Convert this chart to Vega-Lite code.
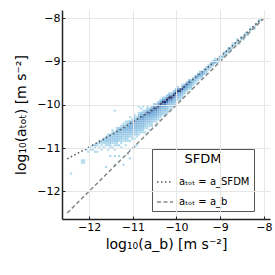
{
"$schema": "https://vega.github.io/schema/vega-lite/v6.json",
"width": 208, "height": 209, "autosize": "none",
"padding": {"left": 62, "top": 10, "right": 5, "bottom": 56},
"datasets": {
"cells": [
{"x":-12.075,"y":-11.025,"n":1},
{"x":-12.025,"y":-10.975,"n":1},{"x":-12.025,"y":-11.075,"n":1},
{"x":-11.975,"y":-10.975,"n":1},{"x":-11.975,"y":-11.025,"n":1},
{"x":-11.925,"y":-10.925,"n":1},{"x":-11.925,"y":-11.025,"n":1},
{"x":-11.875,"y":-10.925,"n":2},{"x":-11.875,"y":-10.975,"n":1},{"x":-11.875,"y":-11.075,"n":1},
{"x":-11.825,"y":-10.875,"n":1},{"x":-11.825,"y":-10.925,"n":1},{"x":-11.825,"y":-11.075,"n":1},
{"x":-11.775,"y":-10.825,"n":1},{"x":-11.775,"y":-10.875,"n":2},{"x":-11.775,"y":-10.975,"n":1},
{"x":-11.725,"y":-10.825,"n":2},{"x":-11.725,"y":-10.875,"n":1},{"x":-11.725,"y":-10.925,"n":1},{"x":-11.725,"y":-11.025,"n":1},
{"x":-11.675,"y":-10.775,"n":2},{"x":-11.675,"y":-10.825,"n":2},{"x":-11.675,"y":-10.875,"n":1},{"x":-11.675,"y":-10.975,"n":1},
{"x":-11.625,"y":-10.725,"n":1},{"x":-11.625,"y":-10.775,"n":3},{"x":-11.625,"y":-10.825,"n":2},{"x":-11.625,"y":-10.875,"n":1},{"x":-11.625,"y":-10.925,"n":1},
{"x":-12.425,"y":-11.575,"n":1},{"x":-12.175,"y":-11.275,"n":1},{"x":-12.125,"y":-11.275,"n":1},{"x":-12.175,"y":-11.325,"n":1},{"x":-12.125,"y":-11.325,"n":1},
{"x":-11.625,"y":-11.425,"n":1},{"x":-11.525,"y":-11.175,"n":1},{"x":-11.425,"y":-11.175,"n":1},{"x":-11.425,"y":-11.375,"n":1},{"x":-11.325,"y":-11.175,"n":1},
{"x":-11.225,"y":-11.375,"n":1},{"x":-11.125,"y":-11.125,"n":1},{"x":-11.075,"y":-11.225,"n":1},{"x":-11.075,"y":-11.025,"n":1},{"x":-10.975,"y":-10.975,"n":1},
{"x":-10.925,"y":-10.925,"n":1},{"x":-11.425,"y":-10.125,"n":1},{"x":-10.875,"y":-10.025,"n":1},
{"x":-11.575,"y":-10.675,"n":1},{"x":-11.575,"y":-10.725,"n":3},{"x":-11.575,"y":-10.775,"n":2},{"x":-11.575,"y":-10.825,"n":2},{"x":-11.575,"y":-10.875,"n":1},{"x":-11.575,"y":-10.925,"n":1},{"x":-11.575,"y":-11.025,"n":1},
{"x":-11.525,"y":-10.675,"n":2},{"x":-11.525,"y":-10.725,"n":4},{"x":-11.525,"y":-10.775,"n":3},{"x":-11.525,"y":-10.825,"n":2},{"x":-11.525,"y":-10.875,"n":2},{"x":-11.525,"y":-10.925,"n":1},{"x":-11.525,"y":-10.975,"n":1},
{"x":-11.475,"y":-10.575,"n":1},{"x":-11.475,"y":-10.625,"n":1},{"x":-11.475,"y":-10.675,"n":4},{"x":-11.475,"y":-10.725,"n":3},{"x":-11.475,"y":-10.775,"n":2},{"x":-11.475,"y":-10.825,"n":2},{"x":-11.475,"y":-10.875,"n":1},{"x":-11.475,"y":-10.975,"n":1},
{"x":-11.425,"y":-10.625,"n":2},{"x":-11.425,"y":-10.675,"n":5},{"x":-11.425,"y":-10.725,"n":3},{"x":-11.425,"y":-10.775,"n":3},{"x":-11.425,"y":-10.825,"n":2},{"x":-11.425,"y":-10.875,"n":1},{"x":-11.425,"y":-10.925,"n":1},{"x":-11.425,"y":-11.025,"n":1},
{"x":-11.375,"y":-10.525,"n":1},{"x":-11.375,"y":-10.575,"n":2},{"x":-11.375,"y":-10.625,"n":5},{"x":-11.375,"y":-10.675,"n":4},{"x":-11.375,"y":-10.725,"n":3},{"x":-11.375,"y":-10.775,"n":2},{"x":-11.375,"y":-10.825,"n":2},{"x":-11.375,"y":-10.875,"n":1},{"x":-11.375,"y":-10.925,"n":1},
{"x":-11.325,"y":-10.525,"n":2},{"x":-11.325,"y":-10.575,"n":6},{"x":-11.325,"y":-10.625,"n":4},{"x":-11.325,"y":-10.675,"n":3},{"x":-11.325,"y":-10.725,"n":2},{"x":-11.325,"y":-10.775,"n":2},{"x":-11.325,"y":-10.825,"n":1},{"x":-11.325,"y":-10.925,"n":1},
{"x":-11.275,"y":-10.475,"n":1},{"x":-11.275,"y":-10.525,"n":2},{"x":-11.275,"y":-10.575,"n":6},{"x":-11.275,"y":-10.625,"n":5},{"x":-11.275,"y":-10.675,"n":3},{"x":-11.275,"y":-10.725,"n":3},{"x":-11.275,"y":-10.775,"n":2},{"x":-11.275,"y":-10.825,"n":1},{"x":-11.275,"y":-10.875,"n":1},{"x":-11.275,"y":-10.975,"n":1},
{"x":-11.225,"y":-10.425,"n":1},{"x":-11.225,"y":-10.475,"n":3},{"x":-11.225,"y":-10.525,"n":7},{"x":-11.225,"y":-10.575,"n":5},{"x":-11.225,"y":-10.625,"n":4},{"x":-11.225,"y":-10.675,"n":3},{"x":-11.225,"y":-10.725,"n":2},{"x":-11.225,"y":-10.775,"n":1},{"x":-11.225,"y":-10.825,"n":1},
{"x":-11.175,"y":-10.375,"n":1},{"x":-11.175,"y":-10.425,"n":1},{"x":-11.175,"y":-10.475,"n":3},{"x":-11.175,"y":-10.525,"n":8},{"x":-11.175,"y":-10.575,"n":6},{"x":-11.175,"y":-10.625,"n":4},{"x":-11.175,"y":-10.675,"n":3},{"x":-11.175,"y":-10.725,"n":2},{"x":-11.175,"y":-10.775,"n":2},{"x":-11.175,"y":-10.825,"n":1},{"x":-11.175,"y":-10.925,"n":1},
{"x":-11.125,"y":-10.375,"n":1},{"x":-11.125,"y":-10.425,"n":3},{"x":-11.125,"y":-10.475,"n":9},{"x":-11.125,"y":-10.525,"n":6},{"x":-11.125,"y":-10.575,"n":4},{"x":-11.125,"y":-10.625,"n":3},{"x":-11.125,"y":-10.675,"n":2},{"x":-11.125,"y":-10.725,"n":2},{"x":-11.125,"y":-10.775,"n":1},{"x":-11.125,"y":-10.825,"n":1},
{"x":-11.075,"y":-10.275,"n":1},{"x":-11.075,"y":-10.375,"n":4},{"x":-11.075,"y":-10.425,"n":10},{"x":-11.075,"y":-10.475,"n":7},{"x":-11.075,"y":-10.525,"n":5},{"x":-11.075,"y":-10.575,"n":3},{"x":-11.075,"y":-10.625,"n":3},{"x":-11.075,"y":-10.675,"n":2},{"x":-11.075,"y":-10.725,"n":1},{"x":-11.075,"y":-10.825,"n":1},
{"x":-11.025,"y":-10.325,"n":1},{"x":-11.025,"y":-10.375,"n":4},{"x":-11.025,"y":-10.425,"n":11},{"x":-11.025,"y":-10.475,"n":7},{"x":-11.025,"y":-10.525,"n":5},{"x":-11.025,"y":-10.575,"n":4},{"x":-11.025,"y":-10.625,"n":3},{"x":-11.025,"y":-10.675,"n":2},{"x":-11.025,"y":-10.725,"n":1},{"x":-11.025,"y":-10.775,"n":1},
{"x":-10.975,"y":-10.225,"n":1},{"x":-10.975,"y":-10.275,"n":2},{"x":-10.975,"y":-10.325,"n":4},{"x":-10.975,"y":-10.375,"n":12},{"x":-10.975,"y":-10.425,"n":8},{"x":-10.975,"y":-10.475,"n":5},{"x":-10.975,"y":-10.525,"n":4},{"x":-10.975,"y":-10.575,"n":3},{"x":-10.975,"y":-10.625,"n":2},{"x":-10.975,"y":-10.675,"n":1},{"x":-10.975,"y":-10.775,"n":1},
{"x":-10.925,"y":-10.275,"n":1},{"x":-10.925,"y":-10.325,"n":5},{"x":-10.925,"y":-10.375,"n":13},{"x":-10.925,"y":-10.425,"n":8},{"x":-10.925,"y":-10.475,"n":6},{"x":-10.925,"y":-10.525,"n":4},{"x":-10.925,"y":-10.575,"n":3},{"x":-10.925,"y":-10.625,"n":2},{"x":-10.925,"y":-10.675,"n":2},{"x":-10.925,"y":-10.725,"n":1},
{"x":-10.875,"y":-10.175,"n":1},{"x":-10.875,"y":-10.225,"n":2},{"x":-10.875,"y":-10.275,"n":5},{"x":-10.875,"y":-10.325,"n":14},{"x":-10.875,"y":-10.375,"n":9},{"x":-10.875,"y":-10.425,"n":6},{"x":-10.875,"y":-10.475,"n":4},{"x":-10.875,"y":-10.525,"n":3},{"x":-10.875,"y":-10.575,"n":2},{"x":-10.875,"y":-10.625,"n":1},{"x":-10.875,"y":-10.675,"n":1},
{"x":-10.825,"y":-10.075,"n":1},{"x":-10.825,"y":-10.175,"n":2},{"x":-10.825,"y":-10.225,"n":5},{"x":-10.825,"y":-10.275,"n":15},{"x":-10.825,"y":-10.325,"n":10},{"x":-10.825,"y":-10.375,"n":6},{"x":-10.825,"y":-10.425,"n":4},{"x":-10.825,"y":-10.475,"n":3},{"x":-10.825,"y":-10.525,"n":2},{"x":-10.825,"y":-10.575,"n":2},{"x":-10.825,"y":-10.625,"n":1},
{"x":-10.775,"y":-10.025,"n":1},{"x":-10.775,"y":-10.125,"n":1},{"x":-10.775,"y":-10.175,"n":2},{"x":-10.775,"y":-10.225,"n":6},{"x":-10.775,"y":-10.275,"n":17},{"x":-10.775,"y":-10.325,"n":11},{"x":-10.775,"y":-10.375,"n":7},{"x":-10.775,"y":-10.425,"n":5},{"x":-10.775,"y":-10.475,"n":3},{"x":-10.775,"y":-10.525,"n":2},{"x":-10.775,"y":-10.575,"n":1},{"x":-10.775,"y":-10.625,"n":1},
{"x":-10.725,"y":-10.125,"n":2},{"x":-10.725,"y":-10.175,"n":7},{"x":-10.725,"y":-10.225,"n":19},{"x":-10.725,"y":-10.275,"n":12},{"x":-10.725,"y":-10.325,"n":7},{"x":-10.725,"y":-10.375,"n":5},{"x":-10.725,"y":-10.425,"n":3},{"x":-10.725,"y":-10.475,"n":2},{"x":-10.725,"y":-10.525,"n":1},{"x":-10.725,"y":-10.625,"n":1},
{"x":-10.675,"y":-10.025,"n":1},{"x":-10.675,"y":-10.075,"n":2},{"x":-10.675,"y":-10.125,"n":7},{"x":-10.675,"y":-10.175,"n":21},{"x":-10.675,"y":-10.225,"n":13},{"x":-10.675,"y":-10.275,"n":8},{"x":-10.675,"y":-10.325,"n":5},{"x":-10.675,"y":-10.375,"n":3},{"x":-10.675,"y":-10.425,"n":2},{"x":-10.675,"y":-10.475,"n":1},{"x":-10.675,"y":-10.525,"n":1},
{"x":-10.625,"y":-10.075,"n":2},{"x":-10.625,"y":-10.125,"n":8},{"x":-10.625,"y":-10.175,"n":23},{"x":-10.625,"y":-10.225,"n":14},{"x":-10.625,"y":-10.275,"n":8},{"x":-10.625,"y":-10.325,"n":5},{"x":-10.625,"y":-10.375,"n":3},{"x":-10.625,"y":-10.425,"n":2},{"x":-10.625,"y":-10.475,"n":1},{"x":-10.625,"y":-10.575,"n":1},
{"x":-10.575,"y":-10.025,"n":2},{"x":-10.575,"y":-10.075,"n":9},{"x":-10.575,"y":-10.125,"n":25},{"x":-10.575,"y":-10.175,"n":15},{"x":-10.575,"y":-10.225,"n":8},{"x":-10.575,"y":-10.275,"n":5},{"x":-10.575,"y":-10.325,"n":3},{"x":-10.575,"y":-10.375,"n":2},{"x":-10.575,"y":-10.425,"n":1},{"x":-10.575,"y":-10.475,"n":1},
{"x":-10.525,"y":-9.975,"n":2},{"x":-10.525,"y":-10.025,"n":9},{"x":-10.525,"y":-10.075,"n":27},{"x":-10.525,"y":-10.125,"n":16},{"x":-10.525,"y":-10.175,"n":9},{"x":-10.525,"y":-10.225,"n":5},{"x":-10.525,"y":-10.275,"n":3},{"x":-10.525,"y":-10.325,"n":2},{"x":-10.525,"y":-10.375,"n":1},
{"x":-10.475,"y":-9.975,"n":2},{"x":-10.475,"y":-10.025,"n":10},{"x":-10.475,"y":-10.075,"n":29},{"x":-10.475,"y":-10.125,"n":17},{"x":-10.475,"y":-10.175,"n":9},{"x":-10.475,"y":-10.225,"n":6},{"x":-10.475,"y":-10.275,"n":3},{"x":-10.475,"y":-10.325,"n":2},{"x":-10.475,"y":-10.375,"n":1},{"x":-10.475,"y":-10.475,"n":1},
{"x":-10.425,"y":-9.925,"n":2},{"x":-10.425,"y":-9.975,"n":11},{"x":-10.425,"y":-10.025,"n":31},{"x":-10.425,"y":-10.075,"n":18},{"x":-10.425,"y":-10.125,"n":10},{"x":-10.425,"y":-10.175,"n":6},{"x":-10.425,"y":-10.225,"n":3},{"x":-10.425,"y":-10.275,"n":2},{"x":-10.425,"y":-10.325,"n":1},
{"x":-10.375,"y":-9.875,"n":2},{"x":-10.375,"y":-9.925,"n":12},{"x":-10.375,"y":-9.975,"n":34},{"x":-10.375,"y":-10.025,"n":18},{"x":-10.375,"y":-10.075,"n":9},{"x":-10.375,"y":-10.125,"n":5},{"x":-10.375,"y":-10.175,"n":3},{"x":-10.375,"y":-10.225,"n":2},{"x":-10.375,"y":-10.275,"n":1},
{"x":-10.325,"y":-9.825,"n":2},{"x":-10.325,"y":-9.875,"n":13},{"x":-10.325,"y":-9.925,"n":37},{"x":-10.325,"y":-9.975,"n":19},{"x":-10.325,"y":-10.025,"n":9},{"x":-10.325,"y":-10.075,"n":5},{"x":-10.325,"y":-10.125,"n":3},{"x":-10.325,"y":-10.175,"n":2},{"x":-10.325,"y":-10.225,"n":1},
{"x":-10.275,"y":-9.825,"n":3},{"x":-10.275,"y":-9.875,"n":14},{"x":-10.275,"y":-9.925,"n":40},{"x":-10.275,"y":-9.975,"n":20},{"x":-10.275,"y":-10.025,"n":9},{"x":-10.275,"y":-10.075,"n":5},{"x":-10.275,"y":-10.125,"n":3},{"x":-10.275,"y":-10.175,"n":1},{"x":-10.275,"y":-10.225,"n":1},
{"x":-10.225,"y":-9.775,"n":3},{"x":-10.225,"y":-9.825,"n":14},{"x":-10.225,"y":-9.875,"n":42},{"x":-10.225,"y":-9.925,"n":20},{"x":-10.225,"y":-9.975,"n":9},{"x":-10.225,"y":-10.025,"n":5},{"x":-10.225,"y":-10.075,"n":3},{"x":-10.225,"y":-10.125,"n":2},{"x":-10.225,"y":-10.175,"n":1},
{"x":-10.175,"y":-9.725,"n":2},{"x":-10.175,"y":-9.775,"n":15},{"x":-10.175,"y":-9.825,"n":44},{"x":-10.175,"y":-9.875,"n":19},{"x":-10.175,"y":-9.925,"n":8},{"x":-10.175,"y":-9.975,"n":4},{"x":-10.175,"y":-10.025,"n":2},{"x":-10.175,"y":-10.075,"n":1},{"x":-10.175,"y":-10.125,"n":1},
{"x":-10.125,"y":-9.725,"n":2},{"x":-10.125,"y":-9.775,"n":15},{"x":-10.125,"y":-9.825,"n":45},{"x":-10.125,"y":-9.875,"n":18},{"x":-10.125,"y":-9.925,"n":8},{"x":-10.125,"y":-9.975,"n":4},{"x":-10.125,"y":-10.025,"n":2},{"x":-10.125,"y":-10.075,"n":1},
{"x":-10.075,"y":-9.675,"n":2},{"x":-10.075,"y":-9.725,"n":14},{"x":-10.075,"y":-9.775,"n":44},{"x":-10.075,"y":-9.825,"n":17},{"x":-10.075,"y":-9.875,"n":7},{"x":-10.075,"y":-9.925,"n":4},{"x":-10.075,"y":-9.975,"n":2},{"x":-10.075,"y":-10.025,"n":1},
{"x":-10.025,"y":-9.625,"n":2},{"x":-10.025,"y":-9.675,"n":14},{"x":-10.025,"y":-9.725,"n":42},{"x":-10.025,"y":-9.775,"n":16},{"x":-10.025,"y":-9.825,"n":7},{"x":-10.025,"y":-9.875,"n":3},{"x":-10.025,"y":-9.925,"n":2},{"x":-10.025,"y":-9.975,"n":1},
{"x":-9.975,"y":-9.575,"n":1},{"x":-9.975,"y":-9.625,"n":12},{"x":-9.975,"y":-9.675,"n":38},{"x":-9.975,"y":-9.725,"n":14},{"x":-9.975,"y":-9.775,"n":6},{"x":-9.975,"y":-9.825,"n":3},{"x":-9.975,"y":-9.875,"n":1},
{"x":-9.925,"y":-9.625,"n":11},{"x":-9.925,"y":-9.675,"n":34},{"x":-9.925,"y":-9.725,"n":13},{"x":-9.925,"y":-9.775,"n":5},{"x":-9.925,"y":-9.825,"n":2},{"x":-9.925,"y":-9.875,"n":1},
{"x":-9.875,"y":-9.525,"n":1},{"x":-9.875,"y":-9.575,"n":10},{"x":-9.875,"y":-9.625,"n":30},{"x":-9.875,"y":-9.675,"n":11},{"x":-9.875,"y":-9.725,"n":5},{"x":-9.875,"y":-9.775,"n":2},{"x":-9.875,"y":-9.825,"n":1},
{"x":-9.825,"y":-9.525,"n":9},{"x":-9.825,"y":-9.575,"n":26},{"x":-9.825,"y":-9.625,"n":10},{"x":-9.825,"y":-9.675,"n":4},{"x":-9.825,"y":-9.725,"n":2},
{"x":-9.775,"y":-9.475,"n":8},{"x":-9.775,"y":-9.525,"n":22},{"x":-9.775,"y":-9.575,"n":9},{"x":-9.775,"y":-9.625,"n":4},{"x":-9.775,"y":-9.675,"n":1},
{"x":-9.725,"y":-9.425,"n":6},{"x":-9.725,"y":-9.475,"n":18},{"x":-9.725,"y":-9.525,"n":7},{"x":-9.725,"y":-9.575,"n":3},{"x":-9.725,"y":-9.625,"n":1},
{"x":-9.675,"y":-9.425,"n":5},{"x":-9.675,"y":-9.475,"n":15},{"x":-9.675,"y":-9.525,"n":6},{"x":-9.675,"y":-9.575,"n":2},{"x":-9.675,"y":-9.625,"n":1},
{"x":-9.625,"y":-9.375,"n":4},{"x":-9.625,"y":-9.425,"n":12},{"x":-9.625,"y":-9.475,"n":5},{"x":-9.625,"y":-9.525,"n":2},
{"x":-9.575,"y":-9.325,"n":3},{"x":-9.575,"y":-9.375,"n":10},{"x":-9.575,"y":-9.425,"n":4},{"x":-9.575,"y":-9.475,"n":1},
{"x":-9.525,"y":-9.275,"n":3},{"x":-9.525,"y":-9.325,"n":9},{"x":-9.525,"y":-9.375,"n":4},{"x":-9.525,"y":-9.425,"n":1},
{"x":-9.475,"y":-9.225,"n":2},{"x":-9.475,"y":-9.275,"n":8},{"x":-9.475,"y":-9.325,"n":3},{"x":-9.475,"y":-9.375,"n":1},
{"x":-9.425,"y":-9.225,"n":2},{"x":-9.425,"y":-9.275,"n":7},{"x":-9.425,"y":-9.325,"n":3},{"x":-9.425,"y":-9.375,"n":1},
{"x":-9.375,"y":-9.175,"n":2},{"x":-9.375,"y":-9.225,"n":6},{"x":-9.375,"y":-9.275,"n":3},
{"x":-9.325,"y":-9.125,"n":2},{"x":-9.325,"y":-9.175,"n":5},{"x":-9.325,"y":-9.225,"n":2},{"x":-9.325,"y":-9.275,"n":1},
{"x":-9.275,"y":-9.075,"n":1},{"x":-9.275,"y":-9.125,"n":5},{"x":-9.275,"y":-9.175,"n":2},
{"x":-9.225,"y":-9.025,"n":1},{"x":-9.225,"y":-9.075,"n":4},{"x":-9.225,"y":-9.125,"n":2},
{"x":-9.175,"y":-8.975,"n":1},{"x":-9.175,"y":-9.025,"n":4},{"x":-9.175,"y":-9.075,"n":2},
{"x":-9.125,"y":-8.925,"n":1},{"x":-9.125,"y":-8.975,"n":4},{"x":-9.125,"y":-9.025,"n":2},
{"x":-9.075,"y":-8.975,"n":3},{"x":-9.075,"y":-9.025,"n":2},
{"x":-9.025,"y":-8.875,"n":1},{"x":-9.025,"y":-8.925,"n":3},{"x":-9.025,"y":-8.975,"n":2},
{"x":-8.975,"y":-8.875,"n":3},{"x":-8.975,"y":-8.925,"n":1},
{"x":-8.925,"y":-8.775,"n":1},{"x":-8.925,"y":-8.825,"n":3},{"x":-8.925,"y":-8.875,"n":2},
{"x":-8.875,"y":-8.775,"n":3},{"x":-8.875,"y":-8.825,"n":1},
{"x":-8.825,"y":-8.675,"n":1},{"x":-8.825,"y":-8.725,"n":3},{"x":-8.825,"y":-8.775,"n":1},
{"x":-8.775,"y":-8.675,"n":2},{"x":-8.775,"y":-8.725,"n":2},
{"x":-8.725,"y":-8.575,"n":1},{"x":-8.725,"y":-8.625,"n":2},{"x":-8.725,"y":-8.675,"n":1},
{"x":-8.675,"y":-8.575,"n":2},{"x":-8.675,"y":-8.625,"n":1},
{"x":-8.625,"y":-8.475,"n":1},{"x":-8.625,"y":-8.525,"n":2},{"x":-8.625,"y":-8.575,"n":1},
{"x":-8.575,"y":-8.525,"n":2},{"x":-8.575,"y":-8.575,"n":1},
{"x":-8.525,"y":-8.425,"n":1},{"x":-8.525,"y":-8.475,"n":2},
{"x":-8.475,"y":-8.425,"n":2},{"x":-8.475,"y":-8.475,"n":1},
{"x":-8.425,"y":-8.325,"n":1},{"x":-8.425,"y":-8.375,"n":2},
{"x":-8.375,"y":-8.325,"n":2},{"x":-8.375,"y":-8.375,"n":1},
{"x":-8.325,"y":-8.225,"n":1},{"x":-8.325,"y":-8.275,"n":1},
{"x":-8.275,"y":-8.225,"n":2},
{"x":-8.225,"y":-8.175,"n":1},{"x":-8.225,"y":-8.225,"n":1},
{"x":-8.175,"y":-8.125,"n":2},
{"x":-8.125,"y":-8.025,"n":1},{"x":-8.125,"y":-8.075,"n":1},
{"x":-8.075,"y":-8.025,"n":1}
],
"curves": [
{"x":-12.5,"y":-11.248,"m":"aₜₒₜ = a_SFDM"},{"x":-12.4,"y":-11.195,"m":"aₜₒₜ = a_SFDM"},{"x":-12.3,"y":-11.142,"m":"aₜₒₜ = a_SFDM"},{"x":-12.2,"y":-11.088,"m":"aₜₒₜ = a_SFDM"},
{"x":-12.1,"y":-11.034,"m":"aₜₒₜ = a_SFDM"},{"x":-12.0,"y":-10.98,"m":"aₜₒₜ = a_SFDM"},{"x":-11.9,"y":-10.924,"m":"aₜₒₜ = a_SFDM"},{"x":-11.8,"y":-10.869,"m":"aₜₒₜ = a_SFDM"},
{"x":-11.7,"y":-10.813,"m":"aₜₒₜ = a_SFDM"},{"x":-11.6,"y":-10.756,"m":"aₜₒₜ = a_SFDM"},{"x":-11.5,"y":-10.698,"m":"aₜₒₜ = a_SFDM"},{"x":-11.4,"y":-10.64,"m":"aₜₒₜ = a_SFDM"},
{"x":-11.3,"y":-10.581,"m":"aₜₒₜ = a_SFDM"},{"x":-11.2,"y":-10.521,"m":"aₜₒₜ = a_SFDM"},{"x":-11.1,"y":-10.46,"m":"aₜₒₜ = a_SFDM"},{"x":-11.0,"y":-10.398,"m":"aₜₒₜ = a_SFDM"},
{"x":-10.9,"y":-10.335,"m":"aₜₒₜ = a_SFDM"},{"x":-10.8,"y":-10.271,"m":"aₜₒₜ = a_SFDM"},{"x":-10.7,"y":-10.205,"m":"aₜₒₜ = a_SFDM"},{"x":-10.6,"y":-10.139,"m":"aₜₒₜ = a_SFDM"},
{"x":-10.5,"y":-10.071,"m":"aₜₒₜ = a_SFDM"},{"x":-10.4,"y":-10.002,"m":"aₜₒₜ = a_SFDM"},{"x":-10.3,"y":-9.931,"m":"aₜₒₜ = a_SFDM"},{"x":-10.2,"y":-9.859,"m":"aₜₒₜ = a_SFDM"},
{"x":-10.1,"y":-9.786,"m":"aₜₒₜ = a_SFDM"},{"x":-10.0,"y":-9.712,"m":"aₜₒₜ = a_SFDM"},{"x":-9.9,"y":-9.634,"m":"aₜₒₜ = a_SFDM"},{"x":-9.8,"y":-9.556,"m":"aₜₒₜ = a_SFDM"},
{"x":-9.7,"y":-9.477,"m":"aₜₒₜ = a_SFDM"},{"x":-9.6,"y":-9.396,"m":"aₜₒₜ = a_SFDM"},{"x":-9.5,"y":-9.314,"m":"aₜₒₜ = a_SFDM"},{"x":-9.4,"y":-9.231,"m":"aₜₒₜ = a_SFDM"},
{"x":-9.3,"y":-9.147,"m":"aₜₒₜ = a_SFDM"},{"x":-9.2,"y":-9.061,"m":"aₜₒₜ = a_SFDM"},{"x":-9.1,"y":-8.974,"m":"aₜₒₜ = a_SFDM"},{"x":-9.0,"y":-8.886,"m":"aₜₒₜ = a_SFDM"},
{"x":-8.9,"y":-8.797,"m":"aₜₒₜ = a_SFDM"},{"x":-8.8,"y":-8.707,"m":"aₜₒₜ = a_SFDM"},{"x":-8.7,"y":-8.616,"m":"aₜₒₜ = a_SFDM"},{"x":-8.6,"y":-8.525,"m":"aₜₒₜ = a_SFDM"},
{"x":-8.5,"y":-8.432,"m":"aₜₒₜ = a_SFDM"},{"x":-8.4,"y":-8.339,"m":"aₜₒₜ = a_SFDM"},{"x":-8.3,"y":-8.245,"m":"aₜₒₜ = a_SFDM"},{"x":-8.2,"y":-8.151,"m":"aₜₒₜ = a_SFDM"},
{"x":-8.1,"y":-8.056,"m":"aₜₒₜ = a_SFDM"},{"x":-8.0,"y":-7.961,"m":"aₜₒₜ = a_SFDM"},
{"x":-12.5,"y":-12.5,"m":"aₜₒₜ = a_b"},{"x":-8.0,"y":-8.0,"m":"aₜₒₜ = a_b"}
]
},
"layer": [
{
"data": {"name": "cells"},
"mark": {"type": "rect"},
"encoding": {
"x": {"field": "x", "type": "quantitative", "bin": {"step": 0.05, "extent": [-12.6, -7.8]},
"scale": {"domain": [-12.62, -7.86], "nice": false, "zero": false},
"axis": {"values": [-12, -11, -10, -9, -8], "format": "d", "title": "log₁₀(a_b) [m s⁻²]", "labelExpr": "replace(datum.label, '-', '−')"}},
"y": {"field": "y", "type": "quantitative", "bin": {"step": 0.05, "extent": [-12.65, -7.8]},
"scale": {"domain": [-12.64, -7.81], "nice": false, "zero": false},
"axis": {"values": [-12, -11, -10, -9, -8], "format": "d", "title": "log₁₀(aₜₒₜ) [m s⁻²]", "labelExpr": "replace(datum.label, '-', '−')"}},
"color": {"aggregate": "sum", "field": "n", "type": "quantitative",
"scale": {"type": "log", "domain": [1, 15, 45], "range": ["#b0daee", "#6fa6d6", "#141a6b"]}, "legend": null}
}
},
{
"data": {"name": "curves"},
"mark": {"type": "line", "strokeWidth": 1.5, "clip": true},
"encoding": {
"x": {"field": "x", "type": "quantitative", "axis": {"values": [-12, -11, -10, -9, -8], "format": "d", "title": "log₁₀(a_b) [m s⁻²]", "labelExpr": "replace(datum.label, '-', '−')"}},
"y": {"field": "y", "type": "quantitative", "axis": {"values": [-12, -11, -10, -9, -8], "format": "d", "title": "log₁₀(aₜₒₜ) [m s⁻²]", "labelExpr": "replace(datum.label, '-', '−')"}},
"strokeDash": {"field": "m", "type": "nominal", "title": "SFDM",
"scale": {"domain": ["aₜₒₜ = a_SFDM", "aₜₒₜ = a_b"], "range": [[1.5, 2.5], [4, 2.5]]}},
"stroke": {"field": "m", "type": "nominal", "title": "SFDM",
"scale": {"domain": ["aₜₒₜ = a_SFDM", "aₜₒₜ = a_b"], "range": ["#555555", "#888888"]}}
}
}
],
"config": {
"font": "DejaVu Sans",
"view": {"stroke": null},
"axis": {"grid": true, "gridColor": "#e6e6e6", "gridWidth": 1, "domainColor": "#222222", "domainWidth": 1.5,
"ticks": true, "tickSize": -3, "tickColor": "#222222", "labelPadding": 5,
"labelFontSize": 11, "labelColor": "black", "titleFontSize": 14, "titleFontWeight": "normal", "titleColor": "black"},
"axisX": {"titlePadding": 5},
"axisY": {"titlePadding": 8},
"legend": {"orient": "none", "legendX": 90, "legendY": 139, "strokeColor": "#555555", "fillColor": "white",
"padding": 4, "titleAnchor": "middle", "titleFontSize": 13, "titleFontWeight": "normal", "titleColor": "black", "titlePadding": 7,
"labelFontSize": 10, "labelColor": "black", "labelOffset": 5, "symbolType": "stroke", "symbolSize": 256,
"symbolStrokeWidth": 1.5, "rowPadding": 6}
}
}
